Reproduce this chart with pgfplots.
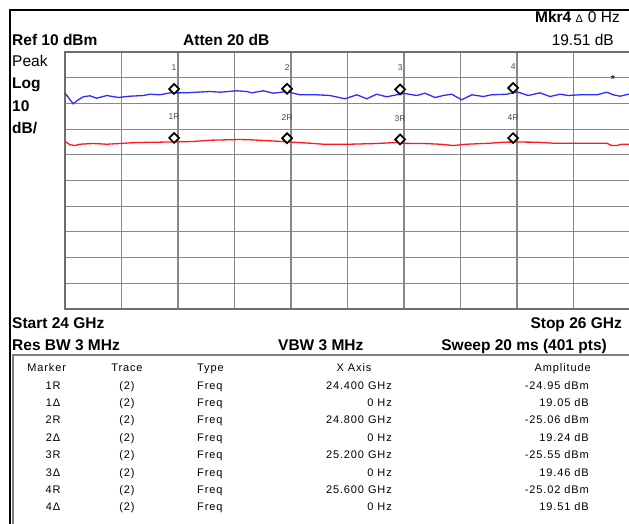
\documentclass[border=0pt]{standalone}
\usepackage{pgfplots}
\pgfplotsset{compat=1.18}
\usepackage{fontspec}
\setmainfont{Liberation Sans}
\newcommand\hdr{\fontsize{15.5}{18}\selectfont}
\newcommand\tbl{\fontsize{11}{13}\selectfont\addfontfeature{LetterSpace=8}}
\newcommand\mkl{\fontsize{8.5}{10}\selectfont}
\definecolor{trblue}{RGB}{45,45,255}
\definecolor{trred}{RGB}{255,25,25}
\definecolor{gridgray}{RGB}{135,135,135}
\definecolor{bordgray}{RGB}{110,110,110}
\begin{document}
\begin{tikzpicture}
\useasboundingbox (0pt,0pt) rectangle (629pt,-523pt);
\fill[white] (0pt,0pt) rectangle (629pt,-523pt);
\begin{axis}[
  at={(65pt,-309pt)}, anchor=south west,
  scale only axis, width=565pt, height=257pt,
  xmin=24, xmax=26, ymin=-90, ymax=10,
  xtick={24,24.2,24.4,24.6,24.8,25,25.2,25.4,25.6,25.8,26},
  ytick={-90,-80,-70,-60,-50,-40,-30,-20,-10,0,10},
  xticklabels={}, yticklabels={},
  major tick length=0pt,
  grid=major,
  major grid style={draw=gridgray, line width=1.1pt},
  axis line style={draw=bordgray, line width=2.2pt},
  clip=false,
]
% blue trace (delta / trace 1)
\addplot[trblue, line width=1.3pt] table {
24.000 -6.03
24.029 -10.16
24.047 -8.60
24.065 -7.43
24.088 -7.04
24.112 -7.98
24.148 -6.93
24.189 -7.70
24.230 -7.20
24.277 -6.93
24.301 -6.42
24.336 -6.65
24.372 -5.88
24.400 -5.90
24.431 -5.88
24.466 -5.64
24.513 -5.37
24.549 -5.64
24.608 -5.10
24.643 -5.37
24.661 -5.88
24.702 -5.10
24.738 -6.03
24.785 -5.37
24.800 -5.82
24.832 -6.65
24.891 -6.65
24.938 -6.93
24.991 -8.21
25.033 -6.65
25.068 -8.21
25.103 -6.42
25.139 -7.43
25.174 -6.65
25.200 -6.09
25.245 -6.93
25.274 -6.03
25.310 -7.70
25.339 -6.93
25.369 -6.42
25.404 -8.60
25.440 -6.65
25.481 -7.32
25.510 -6.65
25.564 -6.42
25.600 -5.51
25.640 -6.93
25.681 -5.88
25.717 -7.32
25.752 -6.42
25.782 -6.93
25.823 -6.65
25.883 -6.65
25.918 -5.64
25.941 -6.65
25.965 -7.20
25.994 -6.42
26.000 -6.40
};
% red trace (reference)
\addplot[trred, line width=1.3pt] table {
24.000 -24.82
24.018 -26.11
24.035 -26.38
24.053 -25.88
24.100 -25.60
24.148 -25.88
24.195 -25.60
24.254 -25.21
24.325 -25.10
24.400 -24.95
24.454 -24.82
24.513 -24.32
24.619 -24.05
24.655 -24.16
24.726 -24.55
24.800 -25.06
24.867 -25.49
24.914 -25.88
25.009 -25.88
25.103 -25.60
25.174 -25.21
25.200 -25.55
25.268 -25.60
25.327 -25.88
25.375 -26.38
25.422 -25.88
25.504 -25.49
25.552 -25.10
25.600 -25.02
25.670 -25.10
25.729 -25.49
25.799 -25.49
25.918 -25.49
25.935 -26.38
25.953 -26.38
25.971 -25.88
25.994 -25.88
26.000 -25.88
};
% markers on blue trace
\addplot[only marks, mark=square*, mark size=3.5pt,
  mark options={rotate=45, fill=white, draw=black, line width=1.7pt, yshift=5.5pt},
  nodes near coords, point meta=explicit symbolic,
  every node near coord/.style={anchor=center, yshift=21.5pt, inner sep=0pt, font=\mkl, text=black!70}]
  coordinates {(24.4,-5.90)[1] (24.8,-5.82)[2] (25.2,-6.09)[3] (25.6,-5.51)[4]};
% markers on red trace
\addplot[only marks, mark=square*, mark size=3.5pt,
  mark options={rotate=45, fill=white, draw=black, line width=1.7pt, yshift=5.5pt},
  nodes near coords, point meta=explicit symbolic,
  every node near coord/.style={anchor=center, yshift=21pt, inner sep=0pt, font=\mkl, text=black!70}]
  coordinates {(24.4,-24.95)[1R] (24.8,-25.06)[2R] (25.2,-25.55)[3R] (25.6,-25.02)[4R]};
\node[font=\fontsize{12}{12}\selectfont, inner sep=0pt] at (axis cs:25.94,-0.8) {*};
\end{axis}
\begin{scope}[x=1pt,y=-1pt]
\draw[black, line width=2pt] (9.5,524) -- (9.5,10.3) -- (630,10.3);
\draw[gray, line width=1.5pt] (12.8,524) -- (12.8,355) -- (630,355);
% header
\node[anchor=base east, inner sep=0pt, font=\hdr] at (620,22.5) {{\bfseries Mkr4} {\fontsize{11}{12}\selectfont Δ}\hspace{5pt}0 Hz};
\node[anchor=base east, inner sep=0pt, font=\hdr] at (614,45.7) {19.51 dB};
\node[anchor=base west, inner sep=0pt, font=\hdr\bfseries] at (12,45.7) {Ref 10 dBm};
\node[anchor=base west, inner sep=0pt, font=\hdr\bfseries] at (183,45.7) {Atten 20 dB};
\node[anchor=base west, inner sep=0pt, font=\hdr] at (12,66.7) {Peak};
\node[anchor=base west, inner sep=0pt, font=\hdr\bfseries] at (12,88) {Log};
\node[anchor=base west, inner sep=0pt, font=\hdr\bfseries] at (12,111) {10};
\node[anchor=base west, inner sep=0pt, font=\hdr\bfseries] at (12,133) {dB/};
% footer
\node[anchor=base west, inner sep=0pt, font=\hdr\bfseries] at (12,328.3) {Start 24 GHz};
\node[anchor=base east, inner sep=0pt, font=\hdr\bfseries] at (622,328.3) {Stop 26 GHz};
\node[anchor=base west, inner sep=0pt, font=\hdr\bfseries] at (12,350) {Res BW 3 MHz};
\node[anchor=base west, inner sep=0pt, font=\hdr\bfseries] at (278,350) {VBW 3 MHz};
\node[anchor=base east, inner sep=0pt, font=\hdr\bfseries] at (607,350) {Sweep 20 ms (401 pts)};
% table
\foreach \y/\m/\x/\a [count=\i] in {
  389/1R/24.400 GHz/-24.95 dBm,
  406.4/1Δ/0 Hz/19.05 dB,
  423.8/2R/24.800 GHz/-25.06 dBm,
  441.2/2Δ/0 Hz/19.24 dB,
  458.6/3R/25.200 GHz/-25.55 dBm,
  476/3Δ/0 Hz/19.46 dB,
  493.4/4R/25.600 GHz/-25.02 dBm,
  510.8/4Δ/0 Hz/19.51 dB}{
  \node[anchor=base, inner sep=0pt, font=\tbl] at (53,\y) {\m};
  \node[anchor=base, inner sep=0pt, font=\tbl] at (127,\y) {(2)};
  \node[anchor=base west, inner sep=0pt, font=\tbl] at (197,\y) {Freq};
  \node[anchor=base east, inner sep=0pt, font=\tbl] at (392,\y) {\x};
  \node[anchor=base east, inner sep=0pt, font=\tbl] at (589,\y) {\a};
}
\node[anchor=base, inner sep=0pt, font=\tbl] at (46.7,371.7) {Marker};
\node[anchor=base, inner sep=0pt, font=\tbl] at (127,371.7) {Trace};
\node[anchor=base west, inner sep=0pt, font=\tbl] at (197,371.7) {Type};
\node[anchor=base, inner sep=0pt, font=\tbl] at (354,371.7) {X Axis};
\node[anchor=base, inner sep=0pt, font=\tbl] at (562.7,371.7) {Amplitude};
\end{scope}
\end{tikzpicture}
\end{document}
